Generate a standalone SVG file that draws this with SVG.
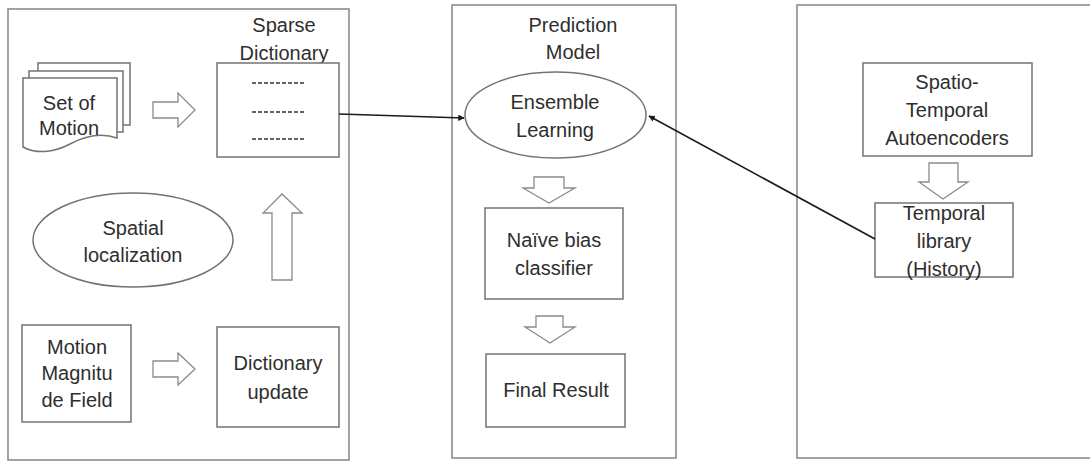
<svg xmlns="http://www.w3.org/2000/svg" width="1090" height="463" viewBox="0 0 1090 463">
<style>
.panel{fill:none;stroke:#8c8c8c;stroke-width:1.6}
.box{fill:#fff;stroke:#737373;stroke-width:1.5}
.blk{fill:#fff;stroke:#8a8a8a;stroke-width:1.3;stroke-linejoin:miter}
.t{font-family:"Liberation Sans",Arial,sans-serif;font-size:20px;fill:#2e2e2e;text-anchor:middle}
.dash{stroke:#333;stroke-width:1.4;stroke-dasharray:4 2}
.conn{stroke:#1a1a1a;stroke-width:1.6;fill:none}
</style>
<defs>
<marker id="ah" viewBox="0 0 10 10" refX="9" refY="5" markerWidth="4" markerHeight="4" orient="auto">
<path d="M0,0 L10,5 L0,10 z" fill="#1a1a1a"/>
</marker>
</defs>
<rect width="1090" height="463" fill="#fff"/>
<g id="panels">
<rect class="panel" x="8" y="9" width="341" height="451"/>
<rect class="panel" x="452" y="5" width="224" height="453"/>
<rect class="panel" x="797" y="5" width="300" height="453"/>
</g>
<g id="left-panel-title"><text class="t" x="284" y="32">Sparse</text><text class="t" x="284" y="60">Dictionary</text></g>
<g id="set-of-motion">
<path class="box" d="M38,71 V63 H130 V125 H123"/>
<path class="box" d="M29,78 V71 H123 V132 H117"/>
<path class="box" d="M23,78 H117 V138 C100,132 85,136 70,144 C53,153 36,154 23,147 Z"/>
<text class="t" x="69" y="110">Set of</text><text class="t" x="69" y="135">Motion</text>
</g>
<g id="sparse-dictionary">
<rect class="box" x="217" y="63" width="122" height="94"/>
<line class="dash" x1="252" y1="83" x2="306" y2="83"/>
<line class="dash" x1="252" y1="112" x2="306" y2="112"/>
<line class="dash" x1="252" y1="139" x2="306" y2="139"/>
</g>
<g id="spatial-localization">
<ellipse class="box" cx="133" cy="240" rx="100" ry="47"/>
<text class="t" x="133" y="235">Spatial</text><text class="t" x="133" y="262">localization</text>
</g>
<g id="motion-magnitude-field">
<rect class="box" x="22" y="325" width="109" height="97"/>
<text class="t" x="77" y="354">Motion</text><text class="t" x="77" y="380">Magnitu</text><text class="t" x="77" y="407">de Field</text>
</g>
<g id="dictionary-update">
<rect class="box" x="217" y="327" width="122" height="100"/>
<text class="t" x="278" y="370">Dictionary</text><text class="t" x="278" y="399">update</text>
</g>
<g id="prediction-title"><text class="t" x="573" y="32">Prediction</text><text class="t" x="573" y="59">Model</text></g>
<g id="ensemble-learning">
<ellipse class="box" cx="555.5" cy="115" rx="90.5" ry="43"/>
<text class="t" x="555" y="109">Ensemble</text><text class="t" x="555" y="137">Learning</text>
</g>
<g id="naive-bias-classifier">
<rect class="box" x="485" y="208" width="138" height="91"/>
<text class="t" x="554" y="247">Naïve bias</text><text class="t" x="554" y="275">classifier</text>
</g>
<g id="final-result">
<rect class="box" x="486" y="354" width="139" height="73"/>
<text class="t" x="556" y="397">Final Result</text>
</g>
<g id="spatio-temporal-autoencoders">
<rect class="box" x="863" y="63" width="169" height="93"/>
<text class="t" x="947" y="89">Spatio-</text><text class="t" x="947" y="117">Temporal</text><text class="t" x="947" y="145">Autoencoders</text>
</g>
<g id="temporal-library">
<rect class="box" x="875" y="203" width="138" height="74"/>
<text class="t" x="944" y="220">Temporal</text><text class="t" x="944" y="248">library</text><text class="t" x="944" y="276">(History)</text>
</g>
<g id="block-arrows">
<path class="blk" d="M153,102 H178 V93 L195,110 L178,127 V118 H153 Z"/>
<path class="blk" d="M153,361 H178 V353 L195,369 L178,385 V377 H153 Z"/>
<path class="blk" d="M272,280 V213 H263 L282,194 L302,213 H292 V280 Z"/>
<path class="blk" d="M534,177 H564 V188 H575 L549,203 L523,188 H534 Z"/>
<path class="blk" d="M536,316 H563 V327 H575 L550,343 L525,327 H536 Z"/>
<path class="blk" d="M929,163 H958 V182 H968 L943,199 L919,182 H929 Z"/>
</g>
<g id="connectors">
<line class="conn" x1="339" y1="114" x2="464" y2="118" marker-end="url(#ah)"/>
<line class="conn" x1="875" y1="239" x2="649" y2="116" marker-end="url(#ah)"/>
</g>
</svg>
